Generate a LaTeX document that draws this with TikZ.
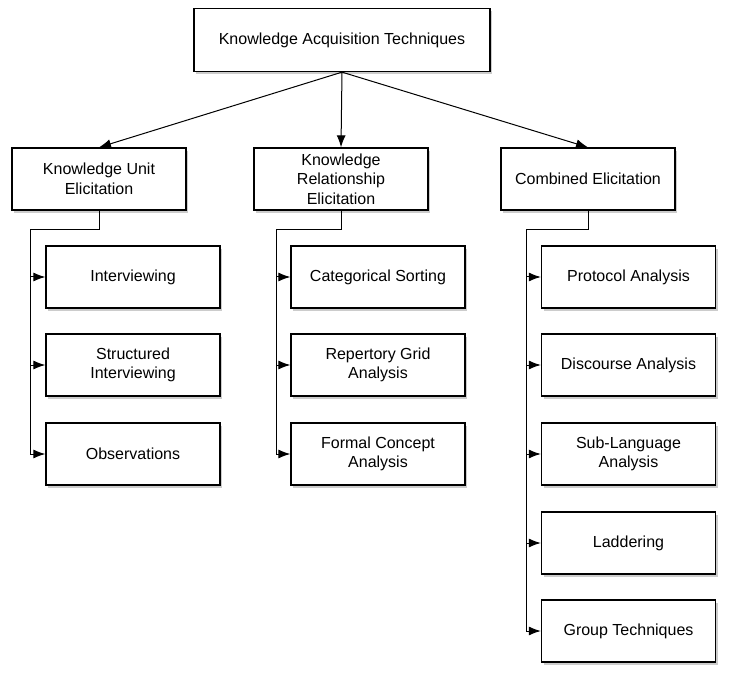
\documentclass[tikz,border=0pt]{standalone}
\usepackage{fontspec}
\setmainfont{Liberation Sans}
\usetikzlibrary{calc,shapes,shadows,arrows.meta}
\tikzstyle{every picture}=[->,>={Latex[length=12pt,width=9pt]}]

\begin{document}
\begin{tikzpicture}[x=1pt,y=-1pt]
{
\useasboundingbox (0,0) rectangle (732,682);
\begin{scope}[every node/.style={rectangle,draw,line width=1.3pt,fill=white,minimum width=174pt,minimum height=62pt,align=center,font=\fontsize{16}{19.5}\selectfont,drop shadow={opacity=0.4,shadow xshift=2pt,shadow yshift=-3pt}}]

    \node(kat) at (342, 40) [minimum width=296pt, minimum height=63pt] {Knowledge Acquisition Techniques};
    \node(kue) at (99, 179) {Knowledge Unit\\Elicitation};
    \node(kre) at (341, 179) {Knowledge\\Relationship\\Elicitation};
    \node(ce) at (588, 179) {Combined Elicitation};

    \node(int) at (133, 277) {Interviewing};
    \node(sint) at (133, 365) {Structured\\Interviewing};
    \node(obs) at (133, 454) {Observations};

    \node(cs) at (378, 277) {Categorical Sorting};
    \node(rga) at (378, 365) {Repertory Grid\\Analysis};
    \node(fca) at (378, 454) {Formal Concept\\Analysis};

    \node(pa) at (628.5, 277) {Protocol Analysis};
    \node(da) at (628.5, 365) {Discourse Analysis};
    \node(sla) at (628.5, 454) {Sub-Language\\Analysis};
    \node(lad) at (628.5, 543) {Laddering};
    \node(gt) at (628.5, 631) {Group Techniques};
\end{scope}
\coordinate(kuebus) at (30, 230);
\coordinate(krebus) at (276, 230);
\coordinate(cebus) at (526, 230);

\path[draw, line width=1pt] (kat.south) -- (kue.north);
\path[draw, line width=1pt] (kat.south) -- (kre.north);
\path[draw, line width=1pt] (kat.south) -- (ce.north);

\path[-, draw, line width=1pt] (kue.south) |- (kuebus) -- (kuebus |- obs.west);
\path[draw, line width=1pt] (kuebus |- int.west) -- (int.west);
\path[draw, line width=1pt] (kuebus |- sint.west) -- (sint.west);
\path[draw, line width=1pt] (kuebus |- obs.west) -- (obs.west);

\path[-, draw, line width=1pt] (kre.south) |- (krebus) -- (krebus |- fca.west);
\path[draw, line width=1pt] (krebus |- cs.west) -- (cs.west);
\path[draw, line width=1pt] (krebus |- rga.west) -- (rga.west);
\path[draw, line width=1pt] (krebus |- fca.west) -- (fca.west);

\path[-, draw, line width=1pt] (ce.south) |- (cebus) -- (cebus |- gt.west);
\path[draw, line width=1pt] (cebus |- pa.west) -- (pa.west);
\path[draw, line width=1pt] (cebus |- da.west) -- (da.west);
\path[draw, line width=1pt] (cebus |- sla.west) -- (sla.west);
\path[draw, line width=1pt] (cebus |- lad.west) -- (lad.west);
\path[draw, line width=1pt] (cebus |- gt.west) -- (gt.west);
}
\end{tikzpicture}
\end{document}
